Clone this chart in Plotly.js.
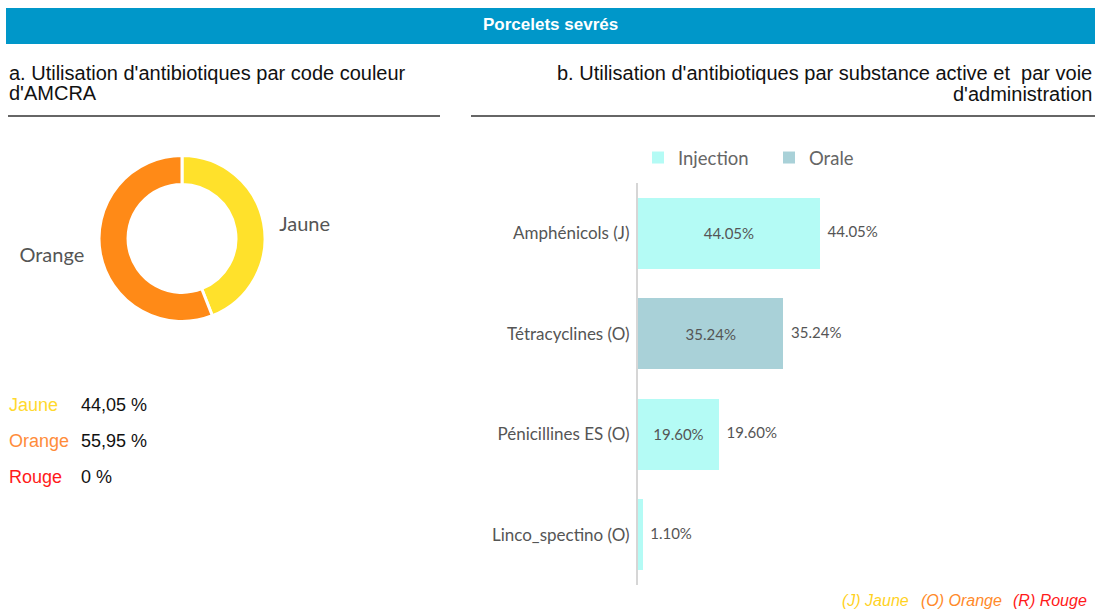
<!DOCTYPE html>
<html><head><meta charset="utf-8">
<script src="https://cdn.plot.ly/plotly-3.0.1.min.js"></script>
<style>html,body{margin:0;padding:0;background:#fff}#c{width:1099px;height:611px}</style>
</head><body><div id="c"></div>
<script>
// ---- data ----
const pieLabels = ['Jaune', 'Orange', 'Rouge'];
const pieValues = [44.05, 55.95, 0];
const pieColors = ['#FFE12B', '#FF8A17', '#FF1A1A'];
const listText = ['44,05 %', '55,95 %', '0 %'];
const listColors = ['#FFD92E', '#FF8C3A', '#FF1A1A'];

const categories = ['Amphénicols (J)', 'Tétracyclines (O)', 'Pénicillines ES (O)', 'Linco_spectino (O)'];
const injection = [44.05, null, 19.60, 1.10];
const orale = [null, 35.24, null, null];
const totals = categories.map((c, i) => (injection[i] || 0) + (orale[i] || 0));

const W = 1099, H = 611;
const px = v => v / W, py = v => 1 - v / H;

const grayTxt = '#555555';
const barFont = 'Lato, "Source Sans Pro", "Noto Sans", sans-serif';
const arial = '"Liberation Sans", Arial, sans-serif';
const NB = '\u00a0';

const fmt = v => v.toFixed(2) + '%';

const traces = [
  {
    type: 'pie', labels: pieLabels.slice(0, 2), values: pieValues.slice(0, 2),
    marker: {colors: pieColors.slice(0, 2), line: {color: '#ffffff', width: 3}},
    hole: 0.65, sort: false, direction: 'clockwise', rotation: 0,
    texttemplate: [NB.repeat(2) + '%{label}', '%{label}' + NB.repeat(2)], textposition: 'outside',
    outsidetextfont: {family: barFont, size: 20, color: grayTxt},
    domain: {x: [px(99), px(265)], y: [py(322), py(155)]},
    showlegend: false, hoverinfo: 'label+percent'
  },
  {
    type: 'bar', orientation: 'h', name: 'Injection', y: categories, x: injection,
    marker: {color: '#B4FBF5'},
    text: injection.map(v => v == null || v < 5 ? '' : fmt(v)),
    textposition: 'inside', insidetextanchor: 'middle', constraintext: 'none',
    textfont: {family: barFont, size: 15, color: grayTxt},
    xaxis: 'x', yaxis: 'y'
  },
  {
    type: 'bar', orientation: 'h', name: 'Orale', y: categories, x: orale,
    marker: {color: '#A9D1D8'},
    text: orale.map(v => v == null || v < 5 ? '' : fmt(v)),
    textposition: 'inside', insidetextanchor: 'middle', constraintext: 'none',
    textfont: {family: barFont, size: 15, color: grayTxt},
    xaxis: 'x', yaxis: 'y'
  },
  {
    type: 'scatter', mode: 'text', y: categories, x: totals,
    text: totals.map(v => NB + NB + fmt(v)), textposition: 'middle right',
    textfont: {family: barFont, size: 15, color: grayTxt},
    showlegend: false, hoverinfo: 'skip', cliponaxis: false,
    xaxis: 'x', yaxis: 'y'
  }
];

const ann = (text, x, y, xanchor, font) => ({text, x: px(x), y: py(y), xanchor, yanchor: 'middle',
  xref: 'paper', yref: 'paper', showarrow: false, font});

const titleFont = {family: arial, size: 20, color: '#111111'};
const annotations = [
  ann('Porcelets sevrés', 550, 25, 'center', {family: arial, size: 17, color: '#ffffff', weight: 'bold'}),
  ann("a. Utilisation d'antibiotiques par code couleur", 7, 73, 'left', titleFont),
  ann("d'AMCRA", 7, 93, 'left', titleFont),
  ann("b. Utilisation d'antibiotiques par substance active et " + NB + "par voie", 1094, 73, 'right', titleFont),
  ann("d'administration", 1094, 94, 'right', titleFont)
];
pieLabels.forEach((lab, i) => {
  annotations.push(ann(lab, 7, 405 + 36 * i, 'left', {family: arial, size: 18, color: listColors[i]}));
  annotations.push(ann(listText[i], 79, 405 + 36 * i, 'left', {family: arial, size: 18, color: '#111111'}));
});
const foot = [['(J) Jaune', '#FFD21F', 840], ['(O) Orange', '#FF8A2A', 919], ['(R) Rouge', '#FF1A1A', 1011]];
foot.forEach(f => annotations.push(ann('<i>' + f[0] + '</i>', f[2], 600, 'left', {family: arial, size: 16, color: f[1]})));

const shapes = [
  {type: 'rect', xref: 'paper', yref: 'paper', x0: px(6), x1: px(1095), y0: py(44), y1: py(8),
   fillcolor: '#0097C9', line: {width: 0}, layer: 'below'},
  {type: 'line', xref: 'paper', yref: 'paper', x0: px(8), x1: px(440), y0: py(116), y1: py(116),
   line: {color: '#333333', width: 1.5}},
  {type: 'line', xref: 'paper', yref: 'paper', x0: px(471), x1: px(1095), y0: py(116), y1: py(116),
   line: {color: '#333333', width: 1.5}}
];

const layout = {
  width: W, height: H, margin: {l: 0, r: 0, t: 0, b: 0},
  paper_bgcolor: '#ffffff', plot_bgcolor: '#ffffff',
  barmode: 'stack', bargap: 0.29,
  xaxis: {domain: [px(638), px(1092)], range: [0, 110], visible: false, fixedrange: true},
  yaxis: {domain: [py(585), py(183)], autorange: 'reversed', showline: true, linecolor: '#d6d6d6', linewidth: 2,
    ticks: '', ticklabelstandoff: 3, showgrid: false, zeroline: false,
    tickfont: {family: barFont, size: 17, color: grayTxt}},
  showlegend: true,
  legend: {orientation: 'h', x: px(638), y: py(158), xanchor: 'left', yanchor: 'middle',
    font: {family: barFont, size: 18.5, color: '#666666'}, traceorder: 'normal', itemwidth: 30,
    entrywidth: 86, entrywidthmode: 'pixels'},
  annotations: annotations, shapes: shapes
};

Plotly.newPlot('c', traces, layout, {displayModeBar: false, staticPlot: true});
</script></body></html>
